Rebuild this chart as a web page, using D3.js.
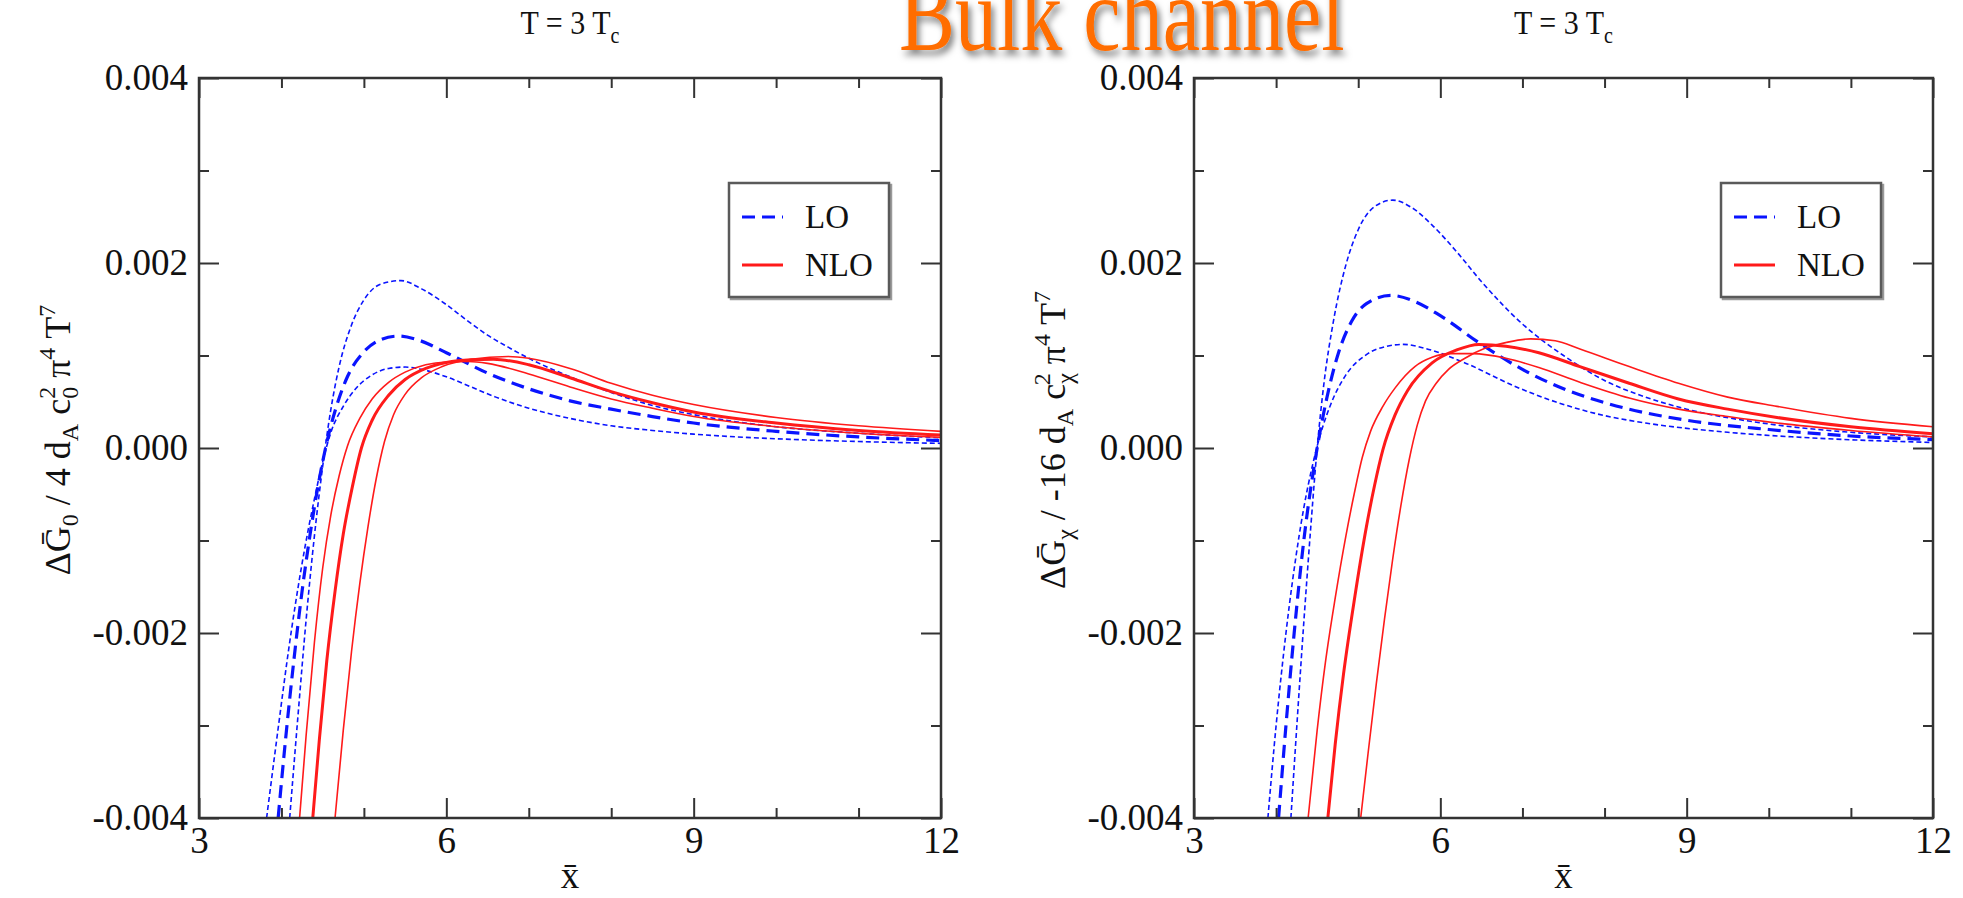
<!DOCTYPE html>
<html>
<head>
<meta charset="utf-8">
<script src="https://cdn.jsdelivr.net/npm/d3@7"></script>
<style>
  html, body { margin: 0; padding: 0; background: #ffffff; }
  svg { display: block; }
</style>
</head>
<body>
<svg id="chart" width="1963" height="898"></svg>
<script>
// ---- axis ticks and labels ----
const xMajor = [3, 6, 9, 12];
const xMinor = [4, 5, 7, 8, 10, 11];
const yMajor = [0.004, 0.002, 0, -0.002, -0.004];
const yMinor = [0.003, 0.001, -0.001, -0.003];
const yTickLabels = ["0.004", "0.002", "0.000", "-0.002", "-0.004"];
const legendLabels = ["LO", "NLO"];
const titleMain = "T = 3 T";
const titleSub = "c";
const headline = "Bulk channel";

// ---- left panel curves: [x̄, value in units of 1e-3] ----
const leftLOHigh = [[4.10,-4.0],[4.2,-2.9],[4.3,-1.85],[4.4,-0.95],[4.5,-0.2],[4.6,0.42],[4.7,0.88],[4.85,1.33],[5.0,1.6],[5.2,1.77],[5.45,1.81],[5.7,1.72],[6.0,1.55],[6.25,1.38],[6.5,1.22],[6.75,1.09],[7.0,0.97],[7.5,0.77],[8.0,0.6],[8.5,0.46],[9.0,0.36],[10,0.23],[11,0.16],[12,0.11]];
const leftLOMid = [[3.96,-4.0],[4.05,-3.15],[4.15,-2.3],[4.25,-1.55],[4.35,-0.92],[4.45,-0.38],[4.55,0.06],[4.65,0.4],[4.8,0.77],[5.0,1.04],[5.2,1.17],[5.42,1.21],[5.65,1.17],[6.0,1.03],[6.5,0.81],[7.0,0.64],[7.5,0.51],[8.0,0.42],[8.5,0.34],[9.0,0.27],[10,0.18],[11,0.12],[12,0.08]];
const leftLOLow = [[3.82,-4.0],[3.95,-3.1],[4.1,-2.1],[4.25,-1.25],[4.4,-0.55],[4.5,-0.15],[4.6,0.17],[4.75,0.45],[4.9,0.64],[5.1,0.79],[5.3,0.86],[5.5,0.875],[5.7,0.85],[6.0,0.77],[6.3,0.66],[6.6,0.55],[7.0,0.43],[7.5,0.32],[8.0,0.24],[8.5,0.19],[9.0,0.15],[10,0.1],[11,0.07],[12,0.05]];
const leftNLOLow = [[4.22,-4.0],[4.3,-3.1],[4.4,-2.1],[4.5,-1.3],[4.6,-0.72],[4.7,-0.3],[4.8,0.02],[4.95,0.32],[5.1,0.53],[5.3,0.71],[5.5,0.82],[5.75,0.9],[6.0,0.93],[6.27,0.935],[6.5,0.915],[7.0,0.8],[7.5,0.66],[8.0,0.53],[8.5,0.43],[9.0,0.34],[10,0.23],[11,0.16],[12,0.115]];
const leftNLOMid = [[4.38,-4.0],[4.46,-3.15],[4.55,-2.3],[4.65,-1.55],[4.75,-0.93],[4.86,-0.42],[4.97,0.0],[5.1,0.3],[5.3,0.57],[5.5,0.74],[5.75,0.86],[6.0,0.925],[6.3,0.955],[6.57,0.96],[7.0,0.9],[7.5,0.76],[8.0,0.61],[8.5,0.49],[9.0,0.39],[10,0.27],[11,0.19],[12,0.14]];
const leftNLOHigh = [[4.65,-4.0],[4.75,-3.05],[4.85,-2.2],[4.95,-1.47],[5.05,-0.85],[5.15,-0.33],[5.25,0.07],[5.36,0.36],[5.5,0.58],[5.7,0.76],[5.95,0.88],[6.3,0.96],[6.75,0.99],[7.0,0.97],[7.5,0.86],[8.0,0.7],[8.5,0.57],[9.0,0.47],[10,0.33],[11,0.24],[12,0.18]];

// ---- right panel curves ----
const rightLOHigh = [[4.18,-4.0],[4.26,-2.9],[4.34,-1.85],[4.42,-0.88],[4.5,0.0],[4.58,0.68],[4.7,1.38],[4.85,1.98],[5.0,2.36],[5.2,2.61],[5.42,2.68],[5.65,2.6],[5.9,2.41],[6.2,2.12],[6.5,1.8],[7.0,1.34],[7.5,1.0],[8.0,0.73],[8.5,0.55],[9.0,0.42],[10,0.26],[11,0.17],[12,0.12]];
const rightLOMid = [[4.03,-4.0],[4.12,-3.0],[4.22,-2.0],[4.34,-0.98],[4.5,0.0],[4.62,0.55],[4.76,1.03],[4.92,1.37],[5.1,1.56],[5.4,1.65],[5.7,1.58],[6.0,1.43],[6.5,1.12],[7.0,0.85],[7.5,0.64],[8.0,0.49],[8.5,0.38],[9.0,0.3],[10,0.2],[11,0.13],[12,0.09]];
const rightLOLow = [[3.9,-4.0],[4.0,-3.0],[4.12,-2.0],[4.28,-0.95],[4.5,0.02],[4.66,0.46],[4.85,0.79],[5.1,1.01],[5.35,1.1],[5.55,1.12],[5.8,1.08],[6.3,0.92],[6.9,0.67],[7.4,0.5],[8.0,0.35],[8.5,0.27],[9.5,0.17],[10.5,0.11],[12,0.06]];
const rightNLOLow = [[4.39,-4.0],[4.5,-3.05],[4.6,-2.32],[4.72,-1.62],[4.85,-0.95],[4.95,-0.5],[5.05,-0.1],[5.15,0.18],[5.3,0.45],[5.45,0.65],[5.69,0.88],[5.9,0.98],[6.1,1.02],[6.4,1.02],[6.8,0.97],[7.2,0.87],[7.7,0.71],[8.3,0.54],[8.9,0.42],[9.5,0.34],[10.1,0.27],[11,0.19],[12,0.12]];
const rightNLOMid = [[4.63,-4.0],[4.72,-3.2],[4.82,-2.45],[4.96,-1.6],[5.1,-0.85],[5.2,-0.4],[5.3,-0.02],[5.45,0.36],[5.6,0.62],[5.9,0.92],[6.2,1.06],[6.47,1.12],[6.8,1.1],[7.2,1.03],[7.7,0.88],[8.3,0.7],[8.9,0.53],[9.5,0.42],[10.1,0.33],[11,0.23],[12,0.155]];
const rightNLOHigh = [[5.03,-4.0],[5.12,-3.3],[5.22,-2.55],[5.32,-1.85],[5.42,-1.2],[5.52,-0.62],[5.62,-0.13],[5.72,0.25],[5.82,0.51],[5.95,0.7],[6.1,0.85],[6.3,0.97],[6.55,1.08],[6.8,1.14],[7.1,1.18],[7.4,1.16],[7.7,1.07],[8.3,0.88],[8.9,0.7],[9.5,0.55],[10.1,0.45],[11,0.32],[12,0.23]];

// ---- drawing ----
const svg = d3.select("#chart");
const FONT = "'Liberation Serif', 'Times New Roman', 'DejaVu Serif', serif";
const BLUE = "#0a14ff";
const RED = "#ff1a1a";
const AXIS = "#333333";

const defs = svg.append("defs");
const shadow = defs.append("filter").attr("id", "headShadow")
  .attr("x", "-10%").attr("y", "-30%").attr("width", "120%").attr("height", "160%");
shadow.append("feDropShadow").attr("dx", 3).attr("dy", 4).attr("stdDeviation", 3)
  .attr("flood-color", "#000").attr("flood-opacity", 0.5);

const styles = {
  loEdge: { stroke: BLUE, width: 1.6, dash: "5,3" },
  loMid:  { stroke: BLUE, width: 3.2, dash: "13,7" },
  nloEdge:{ stroke: RED,  width: 1.6, dash: null },
  nloMid: { stroke: RED,  width: 3.0, dash: null }
};

const panels = [
  { id: "L", x0: 199, x1: 941, y0: 78, y1: 818, labelX: 70,
    series: [[leftLOHigh, "loEdge"], [leftLOLow, "loEdge"], [leftLOMid, "loMid"],
             [leftNLOLow, "nloEdge"], [leftNLOHigh, "nloEdge"], [leftNLOMid, "nloMid"]],
    ylabel: [["Δ"], ["Ḡ"], ["0", "sub"], [" / 4 d"], ["A", "sub"], [" c"], ["0", "sub"], ["2", "supOver"], [" π"], ["4", "sup"], [" T"], ["7", "sup"]] },
  { id: "R", x0: 1194, x1: 1933, y0: 78, y1: 818, labelX: 1065,
    series: [[rightLOHigh, "loEdge"], [rightLOLow, "loEdge"], [rightLOMid, "loMid"],
             [rightNLOLow, "nloEdge"], [rightNLOHigh, "nloEdge"], [rightNLOMid, "nloMid"]],
    ylabel: [["Δ"], ["Ḡ"], ["χ", "sub"], [" / -16 d"], ["A", "sub"], [" c"], ["χ", "sub"], ["2", "supOver"], [" π"], ["4", "sup"], [" T"], ["7", "sup"]] }
];

panels.forEach(p => {
  const x = d3.scaleLinear().domain([3, 12]).range([p.x0, p.x1]);
  const y = d3.scaleLinear().domain([-0.004, 0.004]).range([p.y1, p.y0]);
  const g = svg.append("g");

  defs.append("clipPath").attr("id", "clip" + p.id)
    .append("rect").attr("x", p.x0).attr("y", p.y0)
    .attr("width", p.x1 - p.x0).attr("height", p.y1 - p.y0);

  // curves
  const line = d3.line().x(d => x(d[0])).y(d => y(d[1] * 1e-3)).curve(d3.curveMonotoneX);
  const cg = g.append("g").attr("clip-path", `url(#clip${p.id})`);
  p.series.forEach(([data, key]) => {
    const s = styles[key];
    cg.append("path").attr("d", line(data)).attr("fill", "none")
      .attr("stroke", s.stroke).attr("stroke-width", s.width)
      .attr("stroke-dasharray", s.dash).attr("stroke-linejoin", "round");
  });

  // ticks (inward on all four sides)
  const tickStyle = sel => {
    sel.select(".domain").remove();
    sel.selectAll(".tick line").attr("stroke", AXIS).attr("stroke-width", 2);
    sel.selectAll(".tick text").attr("fill", "#111").style("font-family", FONT).style("font-size", "37px");
  };
  const bottomMaj = d3.axisBottom(x).tickValues(xMajor).tickSize(-20).tickPadding(9).tickFormat(d3.format("d"));
  const bottomMin = d3.axisBottom(x).tickValues(xMinor).tickSize(-10).tickFormat("");
  const topMaj = d3.axisTop(x).tickValues(xMajor).tickSize(-20).tickFormat("");
  const topMin = d3.axisTop(x).tickValues(xMinor).tickSize(-10).tickFormat("");
  const leftMaj = d3.axisLeft(y).tickValues(yMajor).tickSize(-20).tickPadding(11)
    .tickFormat((d, i) => yTickLabels[i]);
  const leftMin = d3.axisLeft(y).tickValues(yMinor).tickSize(-10).tickFormat("");
  const rightMaj = d3.axisRight(y).tickValues(yMajor).tickSize(-20).tickFormat("");
  const rightMin = d3.axisRight(y).tickValues(yMinor).tickSize(-10).tickFormat("");

  [[bottomMaj, p.y1], [bottomMin, p.y1], [topMaj, p.y0], [topMin, p.y0]].forEach(([ax, ty]) =>
    g.append("g").attr("transform", `translate(0,${ty})`).call(ax).call(tickStyle));
  [[leftMaj, p.x0], [leftMin, p.x0], [rightMaj, p.x1], [rightMin, p.x1]].forEach(([ax, tx]) =>
    g.append("g").attr("transform", `translate(${tx},0)`).call(ax).call(tickStyle));
  g.selectAll(".tick text").filter(function () { return this.textContent === ""; }).remove();

  // frame
  g.append("rect").attr("x", p.x0).attr("y", p.y0)
    .attr("width", p.x1 - p.x0).attr("height", p.y1 - p.y0)
    .attr("fill", "none").attr("stroke", AXIS).attr("stroke-width", 2.5);

  // title
  const cx = (p.x0 + p.x1) / 2;
  const t = g.append("text").attr("text-anchor", "middle")
    .attr("transform", `translate(${cx},34) scale(1,1.12)`)
    .style("font-family", FONT).style("font-size", "30px").attr("fill", "#111");
  t.append("tspan").text(titleMain);
  t.append("tspan").attr("dy", 8).style("font-size", "20px").text(titleSub);

  // x-axis label
  g.append("text").attr("x", cx).attr("y", 888).attr("text-anchor", "middle")
    .style("font-family", FONT).style("font-size", "37px").attr("fill", "#111")
    .text("x\u0304");

  // y-axis label (rotated), sub/superscripts with tspans
  const cy = (p.y0 + p.y1) / 2 - 8;
  const yl = g.append("text").attr("text-anchor", "middle")
    .attr("transform", `translate(${p.labelX},${cy}) rotate(-90)`)
    .style("font-family", FONT).style("font-size", "36px").attr("fill", "#111");
  let level = 0;
  p.ylabel.forEach(([txt, kind]) => {
    const ts = yl.append("tspan").text(txt);
    let target = 0;
    if (kind === "sub") { target = 8; ts.style("font-size", "24px"); }
    else if (kind === "sup") { target = -15; ts.style("font-size", "24px"); }
    else if (kind === "supOver") {
      target = -15; ts.style("font-size", "24px");
      ts.attr("dx", -12);
    }
    ts.attr("dy", target - level);
    level = target;
  });

  // legend with a soft offset shadow
  const lx = p.x1 - 212, ly = 183, lw = 160, lh = 114;
  g.append("rect").attr("x", lx + 2).attr("y", ly + 2).attr("width", lw).attr("height", lh)
    .attr("fill", "none").attr("stroke", "#9a9a9a").attr("stroke-width", 2.5);
  g.append("rect").attr("x", lx).attr("y", ly).attr("width", lw).attr("height", lh)
    .attr("fill", "#fff").attr("stroke", "#5a5a5a").attr("stroke-width", 2.5);
  const legendStyles = [styles.loMid, styles.nloMid];
  legendLabels.forEach((lab, i) => {
    const yy = ly + 34 + i * 48;
    const s = legendStyles[i];
    g.append("line").attr("x1", lx + 13).attr("x2", lx + 54).attr("y1", yy).attr("y2", yy)
      .attr("stroke", s.stroke).attr("stroke-width", s.width).attr("stroke-dasharray", s.dash);
    g.append("text").attr("x", lx + 76).attr("y", yy + 11)
      .style("font-family", FONT).style("font-size", "33px").attr("fill", "#111").text(lab);
  });
});

// headline across the top, partly above the page edge
svg.append("text")
  .attr("transform", "translate(899,50) scale(1,1.25)")
  .style("font-family", FONT).style("font-size", "84px")
  .attr("fill", "#ff6d00").attr("filter", "url(#headShadow)")
  .text(headline);
</script>
</body>
</html>
